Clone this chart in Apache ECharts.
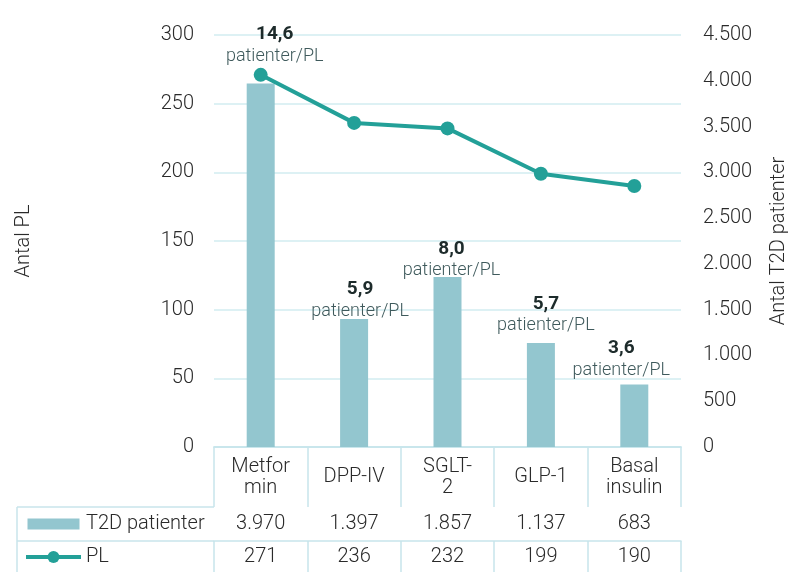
<!DOCTYPE html>
<html>
<head>
<meta charset="utf-8">
<script src="https://cdn.jsdelivr.net/npm/echarts@6/dist/echarts.min.js"></script>
<style>
html,body{margin:0;padding:0;background:#fff;}
#chart{width:791px;height:572px;}
</style>
</head>
<body>
<div id="chart"></div>
<script>
// ---- data ----
const categories = ['Metfor\nmin', 'DPP-IV', 'SGLT-\n2', 'GLP-1', 'Basal\ninsulin'];
const t2dPatients = [3970, 1397, 1857, 1137, 683];
const plCounts = [271, 236, 232, 199, 190];
const ratioLabels = ['14,6', '5,9', '8,0', '5,7', '3,6'];
const seriesNames = ['T2D patienter', 'PL'];
const axisNames = ['Antal PL', 'Antal T2D patienter'];

// ---- style ----
const FONT = 'Roboto';
const FW = 300;
const TXT = '#2a2a2a';
const GRIDC = '#d2ecf1';
const BORDER = '#c8e5eb';
const BARC = '#93c6cf';
const LINEC = '#23a098';
// manual nudges of the ratio labels (as placed in the original)
const labelNudges = [[14, -16], [6, 3], [4, 5], [5, -6], [-13, -3]];

function fmt(n) { return String(n).replace(/\B(?=(\d{3})+(?!\d))/g, '.'); }

const chart = echarts.init(document.getElementById('chart'), null, { renderer: 'canvas' });

const baseX = {
  type: 'category',
  data: categories,
  position: 'bottom',
  axisLine: { show: true, lineStyle: { color: BORDER, width: 1.5 } },
  splitLine: { show: false }
};
const lbl = { fontFamily: FONT, fontWeight: FW, fontSize: 20, color: TXT };

const option = {
  animation: false,
  textStyle: { fontFamily: FONT },
  grid: { left: 214, right: 110, top: 35, bottom: 125, containLabel: false, outerBoundsMode: 'none' },
  legend: {
    orient: 'vertical',
    left: 24,
    top: 514,
    padding: 0,
    itemWidth: 55,
    itemHeight: 15,
    itemGap: 13,
    textStyle: Object.assign({}, lbl),
    data: [
      { name: seriesNames[0], icon: 'path://M0,0M0,2h52v11h-52zM52,15' },
      { name: seriesNames[1], lineStyle: { width: 4 } }
    ]
  },
  xAxis: [
    Object.assign({}, baseX, {
      axisTick: { show: true, length: 60, lineStyle: { color: BORDER, width: 1.5 } },
      axisLabel: Object.assign({}, lbl, { lineHeight: 21, margin: 30, verticalAlign: 'middle', interval: 0 })
    }),
    Object.assign({}, baseX, {
      offset: 60,
      axisTick: { show: true, length: 34, lineStyle: { color: BORDER, width: 1.5 } },
      axisLabel: Object.assign({}, lbl, { margin: 17, verticalAlign: 'middle', interval: 0,
        formatter: function (v, i) { return fmt(t2dPatients[i]); } })
    }),
    Object.assign({}, baseX, {
      offset: 94,
      axisTick: { show: true, length: 40, lineStyle: { color: BORDER, width: 1.5 } },
      axisLabel: Object.assign({}, lbl, { margin: 16, verticalAlign: 'middle', interval: 0,
        formatter: function (v, i) { return fmt(plCounts[i]); } })
    })
  ],
  yAxis: [
    {
      type: 'value', min: 0, max: 300, interval: 50, position: 'left',
      name: axisNames[0], nameLocation: 'middle', nameRotate: 90, nameGap: 180,
      nameTextStyle: Object.assign({}, lbl),
      axisLine: { show: false }, axisTick: { show: false },
      axisLabel: Object.assign({}, lbl, { margin: 20 }),
      splitLine: { show: true, lineStyle: { color: GRIDC, width: 1.5 } }
    },
    {
      type: 'value', min: 0, max: 4500, interval: 500, position: 'right',
      name: axisNames[1], nameLocation: 'middle', nameRotate: 90, nameGap: 88,
      nameTextStyle: Object.assign({}, lbl),
      axisLine: { show: false }, axisTick: { show: false },
      axisLabel: Object.assign({}, lbl, { margin: 22, formatter: function (v) { return fmt(v); } }),
      splitLine: { show: false }
    }
  ],
  graphic: [
    { type: 'line', shape: { x1: 17, y1: 507, x2: 214, y2: 507 }, style: { stroke: BORDER, lineWidth: 1.5 } },
    { type: 'line', shape: { x1: 17, y1: 541, x2: 214, y2: 541 }, style: { stroke: BORDER, lineWidth: 1.5 } },
    { type: 'line', shape: { x1: 17, y1: 507, x2: 17, y2: 572 }, style: { stroke: BORDER, lineWidth: 1.5 } }
  ],
  series: [
    {
      name: seriesNames[0], type: 'bar', xAxisIndex: 0, yAxisIndex: 1, barWidth: 28,
      itemStyle: { color: BARC },
      data: t2dPatients.map(function (v, i) {
        return { value: v, label: { offset: labelNudges[i] } };
      }),
      label: {
        show: true, position: 'top', distance: 0,
        formatter: function (p) { return '{a|' + ratioLabels[p.dataIndex] + '}\n{b|patienter/PL}'; },
        rich: {
          a: { fontFamily: FONT, fontSize: 19, fontWeight: 'bold', color: '#1d2b2b', lineHeight: 22, align: 'center' },
          b: { fontFamily: FONT, fontWeight: FW, fontSize: 18, color: '#3f5a5c', lineHeight: 22, align: 'center' }
        }
      },
      z: 2
    },
    {
      name: seriesNames[1], type: 'line', xAxisIndex: 0, yAxisIndex: 0,
      data: plCounts,
      symbol: 'circle', symbolSize: 14,
      lineStyle: { color: LINEC, width: 4 },
      itemStyle: { color: LINEC },
      z: 3
    }
  ]
};
chart.setOption(option);
</script>
</body>
</html>
